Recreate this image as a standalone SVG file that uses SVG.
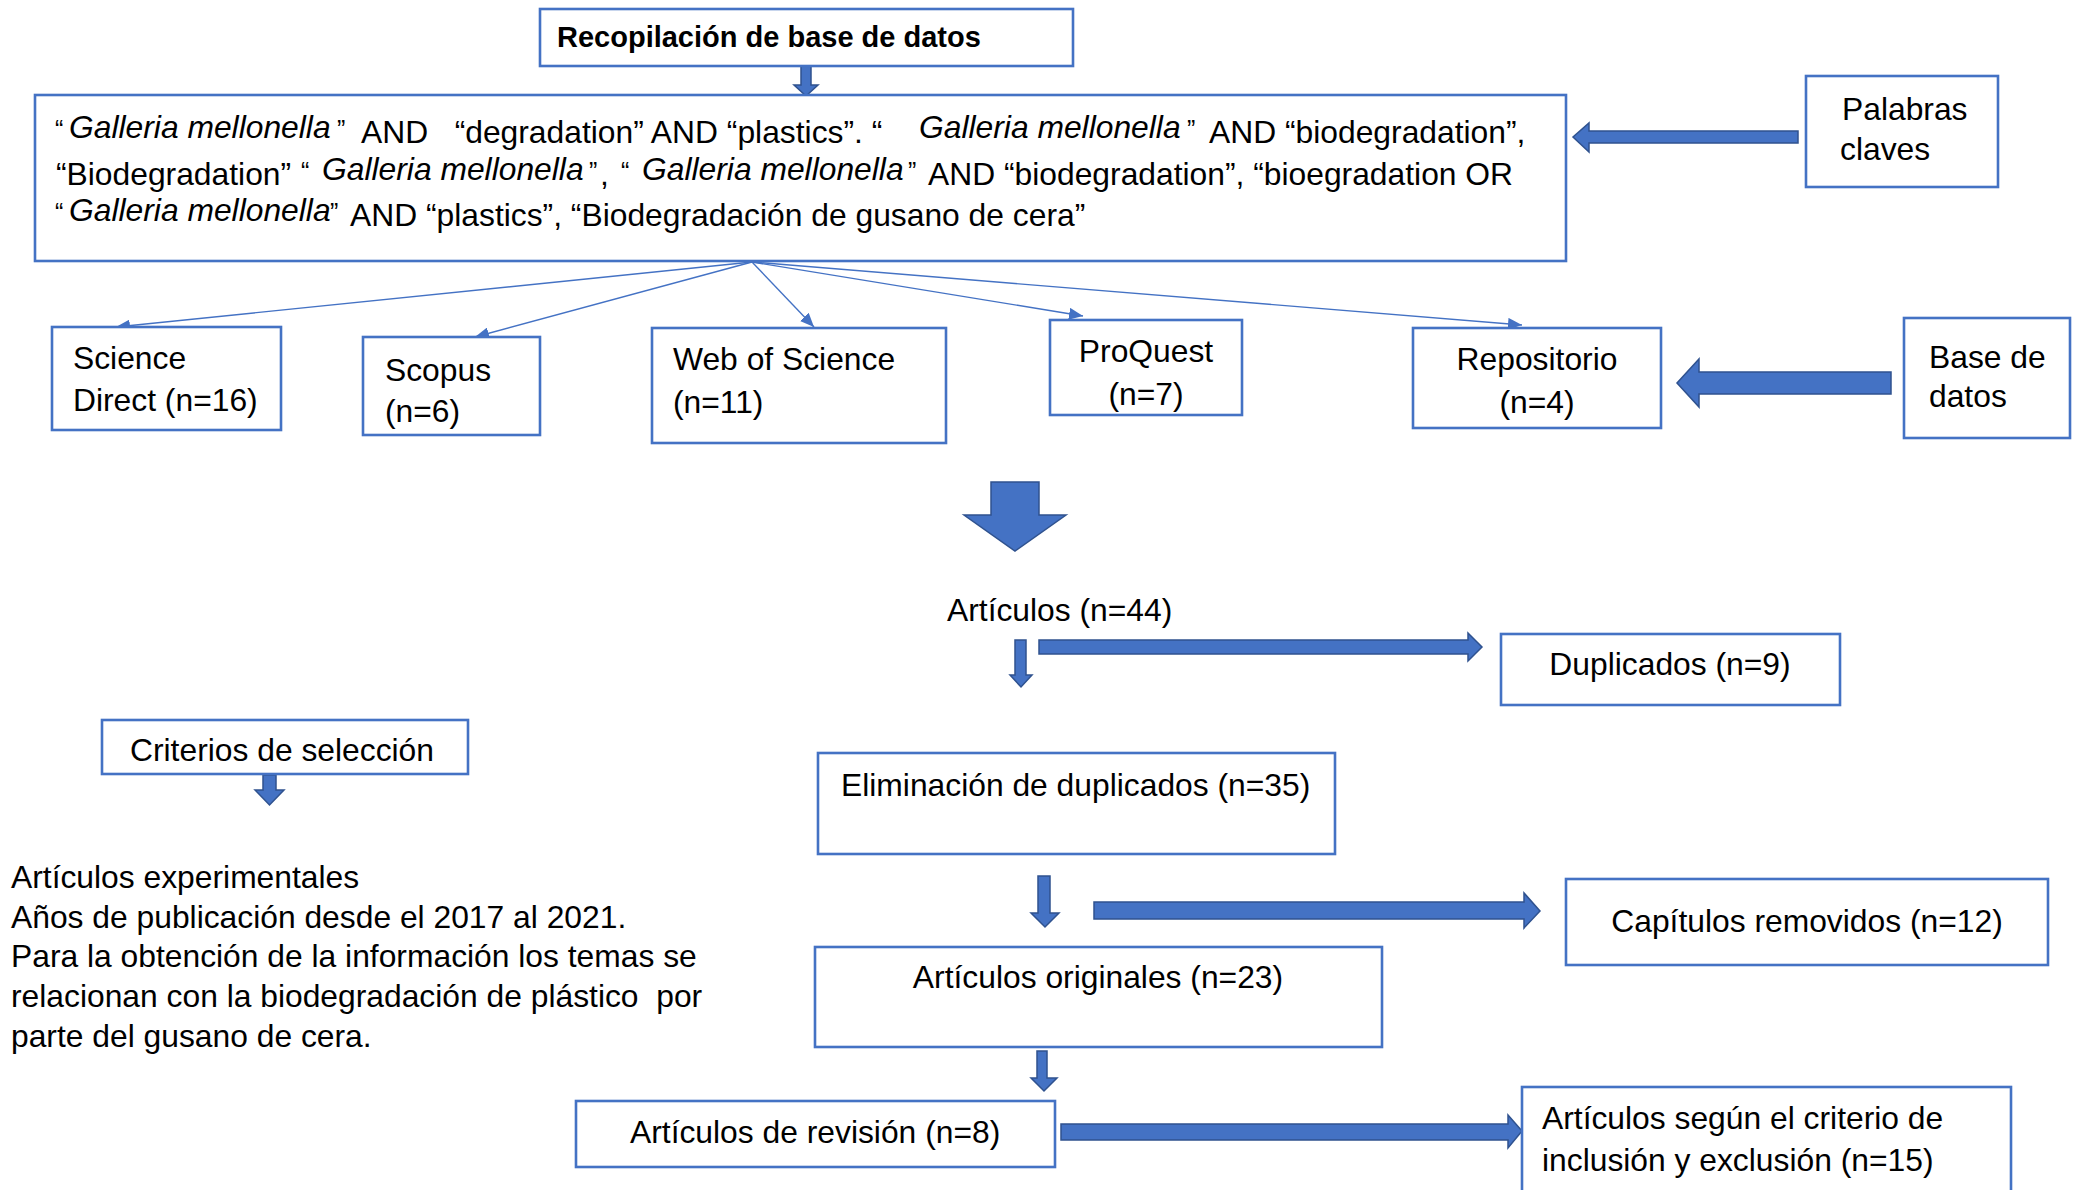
<svg xmlns="http://www.w3.org/2000/svg" width="2079" height="1190" viewBox="0 0 2079 1190">
<style>
.box{fill:#fff;stroke:#4472C4;stroke-width:2.6}
.t{font-family:"Liberation Sans",Arial,sans-serif;font-size:31.8px;fill:#000}
.it{font-style:italic}
.sq{font-size:25px}
.b{font-weight:bold;font-size:29px}
.blk{fill:#4472C4;stroke:#2F528F;stroke-width:1.5;stroke-linejoin:miter}
.thin{fill:none;stroke:#4472C4;stroke-width:1.4}
</style>
<defs>
<marker id="ah" markerUnits="userSpaceOnUse" markerWidth="16" markerHeight="12" refX="14" refY="6" orient="auto">
<path d="M0,0 L14,6 L0,12 z" fill="#4472C4"/>
</marker>
</defs>
<rect width="2079" height="1190" fill="#fff"/>

<g id="connectors">
<line class="thin" x1="752" y1="262" x2="116" y2="327" marker-end="url(#ah)"/>
<line class="thin" x1="752" y1="262" x2="475" y2="337" marker-end="url(#ah)"/>
<line class="thin" x1="752" y1="262" x2="814" y2="327" marker-end="url(#ah)"/>
<line class="thin" x1="752" y1="262" x2="1083" y2="316" marker-end="url(#ah)"/>
<line class="thin" x1="752" y1="262" x2="1522" y2="325" marker-end="url(#ah)"/>
<polygon class="blk" points="801,66 811,66 811,85 818,85 806,96 794,85 801,85"/>
<polygon class="blk" points="1798,131 1589,131 1589,123 1573,137 1589,152 1589,143 1798,143"/>
<polygon class="blk" points="1891,372 1699,372 1699,359 1677,383 1699,407 1699,394 1891,394"/>
<polygon class="blk" points="991,482 1039,482 1039,515 1066,515 1015,551 964,515 991,515"/>
<polygon class="blk" points="1015,640 1026,640 1026,675 1032,675 1021,687 1010,675 1015,675"/>
<polygon class="blk" points="1039,640 1468,640 1468,633 1482,647 1468,661 1468,654 1039,654"/>
<polygon class="blk" points="263,775 276,775 276,790 284,790 269.5,805 255,790 263,790"/>
<polygon class="blk" points="1038,876 1050,876 1050,913 1059,913 1045,927 1031,913 1038,913"/>
<polygon class="blk" points="1094,902 1524,902 1524,893 1540,911 1524,928 1524,919 1094,919"/>
<polygon class="blk" points="1037,1051 1047,1051 1047,1078 1057,1078 1044,1091 1031,1078 1037,1078"/>
<polygon class="blk" points="1061,1124 1508,1124 1508,1115 1522,1131 1508,1148 1508,1140 1061,1140"/>
</g>

<g id="n-recop">
<rect class="box" x="540" y="9" width="533" height="57"/>
<text class="t b" x="557" y="47">Recopilación de base de datos</text>
</g>

<g id="n-query">
<rect class="box" x="35" y="95" width="1531" height="166"/>
<text class="t" xml:space="preserve"><tspan class="sq" x="55" y="138">“</tspan><tspan class="it" x="69" y="138">Galleria mellonella</tspan><tspan class="sq" x="337" y="138">”</tspan><tspan x="361" y="143">AND   “degradation” AND “plastics”. “</tspan><tspan class="it" x="919" y="138">Galleria mellonella</tspan><tspan class="sq" x="1187" y="138">”</tspan><tspan x="1209" y="143">AND “biodegradation”,</tspan></text>
<text class="t" xml:space="preserve"><tspan x="56" y="185">“Biodegradation”</tspan><tspan class="sq" x="301" y="180">“</tspan><tspan class="it" x="322" y="180">Galleria mellonella</tspan><tspan class="sq" x="589" y="180">”</tspan><tspan x="600" y="185">,</tspan><tspan class="sq" x="621" y="180">“</tspan><tspan class="it" x="642" y="180">Galleria mellonella</tspan><tspan class="sq" x="908" y="180">”</tspan><tspan x="928" y="185">AND “biodegradation”, “bioegradation OR</tspan></text>
<text class="t" xml:space="preserve"><tspan class="sq" x="55" y="221">“</tspan><tspan class="it" x="69" y="221">Galleria mellonella</tspan><tspan class="sq" x="330" y="221">”</tspan><tspan x="350" y="226">AND “plastics”, “Biodegradación de gusano de cera”</tspan></text>
</g>

<g id="n-palabras">
<rect class="box" x="1806" y="76" width="192" height="111"/>
<text class="t" x="1842" y="120">Palabras</text>
<text class="t" x="1840" y="160">claves</text>
</g>

<g id="n-sciencedirect">
<rect class="box" x="52" y="327" width="229" height="103"/>
<text class="t" x="73" y="369">Science</text>
<text class="t" x="73" y="411">Direct (n=16)</text>
</g>

<g id="n-scopus">
<rect class="box" x="363" y="337" width="177" height="98"/>
<text class="t" x="385" y="381">Scopus</text>
<text class="t" x="385" y="422">(n=6)</text>
</g>

<g id="n-wos">
<rect class="box" x="652" y="328" width="294" height="115"/>
<text class="t" x="673" y="370">Web of Science</text>
<text class="t" x="673" y="413">(n=11)</text>
</g>

<g id="n-proquest">
<rect class="box" x="1050" y="320" width="192" height="95"/>
<text class="t" x="1146" y="362" text-anchor="middle">ProQuest</text>
<text class="t" x="1146" y="405" text-anchor="middle">(n=7)</text>
</g>

<g id="n-repositorio">
<rect class="box" x="1413" y="328" width="248" height="100"/>
<text class="t" x="1537" y="370" text-anchor="middle">Repositorio</text>
<text class="t" x="1537" y="413" text-anchor="middle">(n=4)</text>
</g>

<g id="n-basedatos">
<rect class="box" x="1904" y="318" width="166" height="120"/>
<text class="t" x="1929" y="368">Base de</text>
<text class="t" x="1929" y="407">datos</text>
</g>

<g id="n-articulos44">
<text class="t" x="947" y="621">Artículos (n=44)</text>
</g>

<g id="n-duplicados">
<rect class="box" x="1501" y="634" width="339" height="71"/>
<text class="t" x="1670" y="675" text-anchor="middle">Duplicados (n=9)</text>
</g>

<g id="n-criterios">
<rect class="box" x="102" y="720" width="366" height="54"/>
<text class="t" x="130" y="761">Criterios de selección</text>
</g>

<g id="n-criterios-text">
<text class="t" xml:space="preserve"><tspan x="11" y="888">Artículos experimentales</tspan><tspan x="11" y="928">Años de publicación desde el 2017 al 2021.</tspan><tspan x="11" y="967">Para la obtención de la información los temas se</tspan><tspan x="11" y="1007">relacionan con la biodegradación de plástico  por</tspan><tspan x="11" y="1047">parte del gusano de cera.</tspan></text>
</g>

<g id="n-eliminacion">
<rect class="box" x="818" y="753" width="517" height="101"/>
<text class="t" x="841" y="796">Eliminación de duplicados (n=35)</text>
</g>

<g id="n-capitulos">
<rect class="box" x="1566" y="879" width="482" height="86"/>
<text class="t" x="1807" y="932" text-anchor="middle">Capítulos removidos (n=12)</text>
</g>

<g id="n-originales">
<rect class="box" x="815" y="947" width="567" height="100"/>
<text class="t" x="1098" y="988" text-anchor="middle">Artículos originales (n=23)</text>
</g>

<g id="n-revision">
<rect class="box" x="576" y="1101" width="479" height="66"/>
<text class="t" x="630" y="1143">Artículos de revisión (n=8)</text>
</g>

<g id="n-criterio-inclusion">
<rect class="box" x="1522" y="1087" width="489" height="130"/>
<text class="t" x="1542" y="1129">Artículos según el criterio de</text>
<text class="t" x="1542" y="1171">inclusión y exclusión (n=15)</text>
</g>
</svg>
